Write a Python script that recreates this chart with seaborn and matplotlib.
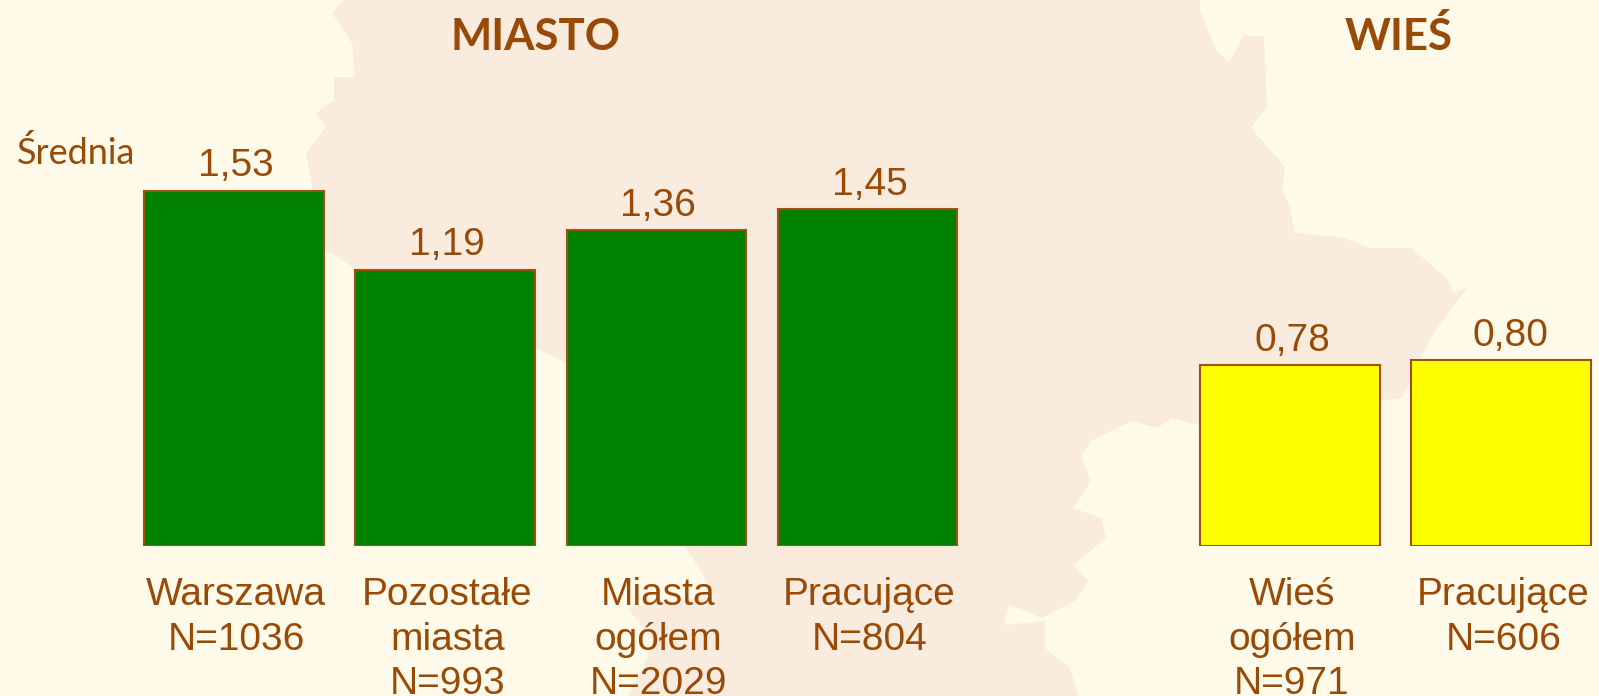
import matplotlib
matplotlib.use("Agg")
import matplotlib.pyplot as plt
import matplotlib.transforms as mtrans
from matplotlib.patches import Polygon
import pandas as pd
import seaborn as sns

# Data
categories = ["Warszawa\nN=1036", "Pozostałe\nmiasta\nN=993", "Miasta\nogółem\nN=2029",
              "Pracujące\nN=804", "Wieś\nogółem\nN=971", "Pracujące\nN=606"]
values = [1.53, 1.19, 1.36, 1.45, 0.78, 0.80]
groups = ["MIASTO", "MIASTO", "MIASTO", "MIASTO", "WIEŚ", "WIEŚ"]
axis_order = categories[:4] + [" "] + categories[4:]

TEXT = "#984A06"
EDGE = "#A0500F"
BG = "#FFFAE9"
MAP = "#F9ECDE"

# Decorative background silhouette (pixel coordinates of the picture)
map_outline = [(344,0),(332,13),(352,43),(355,77),(334,77),(334,100),(316,113),(326,127),(306,153),
               (311,180),(326,250),(354,268),(535,348),(565,362),(686,548),(699,568),(714,595),(628,608),
               (653,641),(643,668),(628,696),(1078,696),(1070,668),(1045,648),(1045,621),(1004,625),
               (1009,605),(1042,618),(1075,601),(1088,581),(1073,565),(1106,538),(1101,518),(1073,508),
               (1091,481),(1081,455),(1091,441),(1132,421),(1157,428),(1172,418),(1198,425),(1402,398),
               (1425,348),(1438,327),(1468,287),(1453,293),(1448,280),(1412,248),(1371,248),(1341,237),
               (1295,233),(1290,207),(1282,190),(1285,167),(1251,128),(1267,107),(1264,37),(1244,35),
               (1229,63),(1216,50),(1200,10),(1200,0)]

sns.set_theme(style="white")
plt.rcParams["font.family"] = ["Liberation Sans", "DejaVu Sans"]

W, H = 1599, 696
BASE = 546
fig = plt.figure(figsize=(W / 100, H / 100), dpi=100, facecolor=BG)

px = mtrans.Affine2D().scale(1 / W, -1 / H).translate(0, 1) + fig.transFigure
fig.patches.append(Polygon(map_outline, closed=True, facecolor=MAP, edgecolor="none",
                           transform=px, figure=fig, zorder=-1))

ax = fig.add_axes([0, (H - BASE) / H, 1, BASE / H])
ax.patch.set_alpha(0)

df = pd.DataFrame({"label": categories, "value": values, "group": groups})
sns.barplot(data=df, x="label", y="value", hue="group", order=axis_order, dodge=False,
            palette={"MIASTO": "#008000", "WIEŚ": "#FFFF00"}, width=0.85,
            edgecolor=EDGE, linewidth=1.5, legend=False, saturation=1, ax=ax)

ax.set_xlim((0 - 234) / 211.2, (W - 234) / 211.2)
ax.set_ylim(0, BASE / 232.3)
ax.set_xlabel("")
ax.set_ylabel("")
ax.set_yticks([])
sns.despine(ax=ax, left=True, bottom=True)

PAD = 4.5
for container in ax.containers:
    for t in ax.bar_label(container, fmt=lambda v: f"{v:.2f}".replace(".", ","), padding=PAD,
                          fontsize=28, color=TEXT):
        dx = 9 if t.get_text() == "0,80" else 2
        t.xyann = (dx * 0.72, PAD)

ax.tick_params(axis="x", length=0, pad=22.5, labelsize=28, labelcolor=TEXT)
shift = mtrans.ScaledTranslation(2 / 100, 0, fig.dpi_scale_trans)
for lab in ax.get_xticklabels():
    lab.set_linespacing(1.3)
    lab.set_transform(lab.get_transform() + shift)

fig.text(536 / W, 1 - 50.5 / H, "MIASTO", family="Lato", weight="bold", fontsize=31.5,
         color=TEXT, ha="center", va="baseline")
fig.text(1399 / W, 1 - 50.5 / H, "WIEŚ", family="Lato", weight="bold", fontsize=31.5,
         color=TEXT, ha="center", va="baseline")
fig.text(16.5 / W, 1 - 164.5 / H, "Średnia", family="Lato", fontsize=26,
         color=TEXT, ha="left", va="baseline")

fig.savefig("out.png", dpi=100, facecolor=BG)
